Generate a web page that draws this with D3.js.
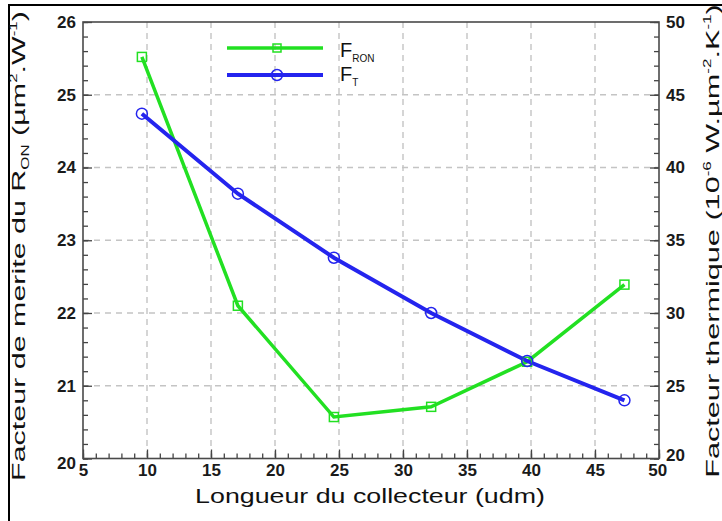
<!DOCTYPE html>
<html><head><meta charset="utf-8">
<script src="https://cdn.jsdelivr.net/npm/d3@7"></script>
<style>body{margin:0;background:#fff}svg{display:block}text{font-family:"Liberation Sans",Arial,sans-serif}</style>
</head><body>
<svg id="c" width="722" height="521"></svg>
<script>
const xValues = [9.6, 17.1, 24.6, 32.2, 39.7, 47.3];
const fRON = [25.52, 22.1, 20.57, 20.71, 21.33, 22.39];
const fT = [43.7, 38.2, 33.8, 30.0, 26.7, 24.0];
const xTicks = [5, 10, 15, 20, 25, 30, 35, 40, 45, 50];
const yLeftTicks = [20, 21, 22, 23, 24, 25, 26];
const yRightTicks = [20, 25, 30, 35, 40, 45, 50];
const seriesNames = ["RON", "T"];

const svg = d3.select("#c");
const L = 83, R = 659, T = 22, B = 458.5;
const x = d3.scaleLinear().domain([5, 50]).range([L, R]);
const yL = d3.scaleLinear().domain([20, 26]).range([B, T]);
const yR = d3.scaleLinear().domain([20, 50]).range([B, T]);
const fmt = d3.format("d");

// outer frame (left & top)
svg.append("rect").attr("x", 9).attr("y", 5).attr("width", 900).attr("height", 700)
  .attr("fill", "none").attr("stroke", "#000").attr("stroke-width", 2);

// grid
const grid = svg.append("g").attr("stroke", "#c4c4c4").attr("stroke-width", 1.4).attr("stroke-dasharray", "6,5");
xTicks.slice(1, -1).forEach(v => grid.append("line").attr("x1", x(v)).attr("x2", x(v)).attr("y1", T).attr("y2", B));
yLeftTicks.slice(1, -1).forEach(v => grid.append("line").attr("y1", yL(v)).attr("y2", yL(v)).attr("x1", L).attr("x2", R));

const tickFont = g => g.selectAll("text").attr("font-size", 17).attr("font-weight", "bold").attr("fill", "#1a1a1a")
  .attr("font-family", "'Liberation Sans',Arial,sans-serif");
const styleAxis = g => { g.select(".domain").remove(); g.selectAll("line").attr("stroke", "#444").attr("stroke-width", 1.3); };

// minor ticks
svg.append("g").attr("transform", `translate(${L},0)`).call(d3.axisLeft(yL).tickValues(d3.range(20, 26.01, 0.2)).tickSize(-5).tickFormat("")).call(styleAxis);
svg.append("g").attr("transform", `translate(${R},0)`).call(d3.axisRight(yR).tickValues(d3.range(20, 50.01, 1)).tickSize(-5).tickFormat("")).call(styleAxis);
svg.append("g").attr("transform", `translate(0,${B})`).call(d3.axisBottom(x).tickValues(d3.range(5, 50.01, 1)).tickSize(-5).tickFormat("")).call(styleAxis);

// major ticks
const axL = svg.append("g").attr("transform", `translate(${L},0)`).call(d3.axisLeft(yL).tickValues(yLeftTicks).tickFormat(fmt).tickSize(-9).tickPadding(7)).call(styleAxis).call(tickFont);
const axR = svg.append("g").attr("transform", `translate(${R},0)`).call(d3.axisRight(yR).tickValues(yRightTicks).tickFormat(fmt).tickSize(-9).tickPadding(7)).call(styleAxis).call(tickFont);
const axB = svg.append("g").attr("transform", `translate(0,${B})`).call(d3.axisBottom(x).tickValues(xTicks).tickFormat(fmt).tickSize(-9).tickPadding(5)).call(styleAxis).call(tickFont);
axL.selectAll(".tick").filter(d => d === 20).select("text").attr("dy", "0.6em");
axR.selectAll(".tick").filter(d => d === 20).select("text").attr("dy", "0.1em");
axB.selectAll(".tick").filter(d => d === 50).select("text").attr("dx", "-0.1em");

// frame
svg.append("rect").attr("x", L).attr("y", T).attr("width", R - L).attr("height", B - T)
  .attr("fill", "none").attr("stroke", "#4a4a4a").attr("stroke-width", 1.6);

// lines
const green = "#22e022", blue = "#2424ee";
const lineL = d3.line().x((d, i) => x(xValues[i])).y(d => yL(d));
const lineR = d3.line().x((d, i) => x(xValues[i])).y(d => yR(d));
svg.append("path").datum(fRON).attr("d", lineL).attr("fill", "none").attr("stroke", green).attr("stroke-width", 3.5);
svg.append("path").datum(fT).attr("d", lineR).attr("fill", "none").attr("stroke", blue).attr("stroke-width", 4);
svg.selectAll(".mg").data(fRON).join("rect").attr("x", (d, i) => x(xValues[i]) - 4.5).attr("y", d => yL(d) - 4.5)
  .attr("width", 9).attr("height", 9).attr("fill", "none").attr("stroke", green).attr("stroke-width", 1.5);
svg.selectAll(".mb").data(fT).join("circle").attr("cx", (d, i) => x(xValues[i])).attr("cy", d => yR(d))
  .attr("r", 5.5).attr("fill", "none").attr("stroke", blue).attr("stroke-width", 1.5);

// legend
const leg = svg.append("g");
leg.append("line").attr("x1", 227).attr("x2", 323).attr("y1", 48).attr("y2", 48).attr("stroke", green).attr("stroke-width", 3.5);
leg.append("rect").attr("x", 273).attr("y", 44).attr("width", 8).attr("height", 8).attr("fill", "none").attr("stroke", green).attr("stroke-width", 1.5);
leg.append("line").attr("x1", 227).attr("x2", 323).attr("y1", 75).attr("y2", 75).attr("stroke", blue).attr("stroke-width", 4);
leg.append("circle").attr("cx", 277).attr("cy", 75).attr("r", 5.5).attr("fill", "none").attr("stroke", blue).attr("stroke-width", 1.5);
[[57, seriesNames[0]], [81, seriesNames[1]]].forEach(([yy, s]) => {
  const t = leg.append("text").attr("x", 340).attr("y", yy).attr("font-size", 20).attr("fill", "#111").text("F");
  t.append("tspan").attr("font-size", 10).attr("dy", 5).text(s);
});

function stretch(t, target) {
  const w = t.node().getBBox().width;
  t.attr("transform", `scale(${target / w},1)`);
}

// x label
const xl = svg.append("g").attr("transform", "translate(370,503)")
  .append("text").attr("text-anchor", "middle").attr("font-size", 20).attr("fill", "#111").text("Longueur du collecteur (udm)");
stretch(xl, 350);

// left label
const ll = svg.append("g").attr("transform", "translate(25,246) rotate(-90)")
  .append("text").attr("text-anchor", "middle").attr("font-size", 18).attr("fill", "#111");
ll.append("tspan").text("Facteur de merite du R");
ll.append("tspan").attr("font-size", 10).attr("dy", 4).text("ON");
ll.append("tspan").attr("dy", -4).text(" (µm");
ll.append("tspan").attr("font-size", 10).attr("dy", -8).text("2");
ll.append("tspan").attr("dy", 8).text(".W");
ll.append("tspan").attr("font-size", 10).attr("dy", -8).text("-1");
ll.append("tspan").attr("dy", 8).text(")");
stretch(ll, 470);

// right label
const rl = svg.append("g").attr("transform", "translate(719,241) rotate(-90)")
  .append("text").attr("text-anchor", "middle").attr("font-size", 18).attr("fill", "#111");
rl.append("tspan").text("Facteur thermique (10");
rl.append("tspan").attr("font-size", 10).attr("dy", -8).text("-6");
rl.append("tspan").attr("dy", 8).text(" W.µm");
rl.append("tspan").attr("font-size", 10).attr("dy", -8).text("-2");
rl.append("tspan").attr("dy", 8).text(".K");
rl.append("tspan").attr("font-size", 10).attr("dy", -8).text("-1");
rl.append("tspan").attr("dy", 8).text(")");
stretch(rl, 474);
</script>
</body></html>
